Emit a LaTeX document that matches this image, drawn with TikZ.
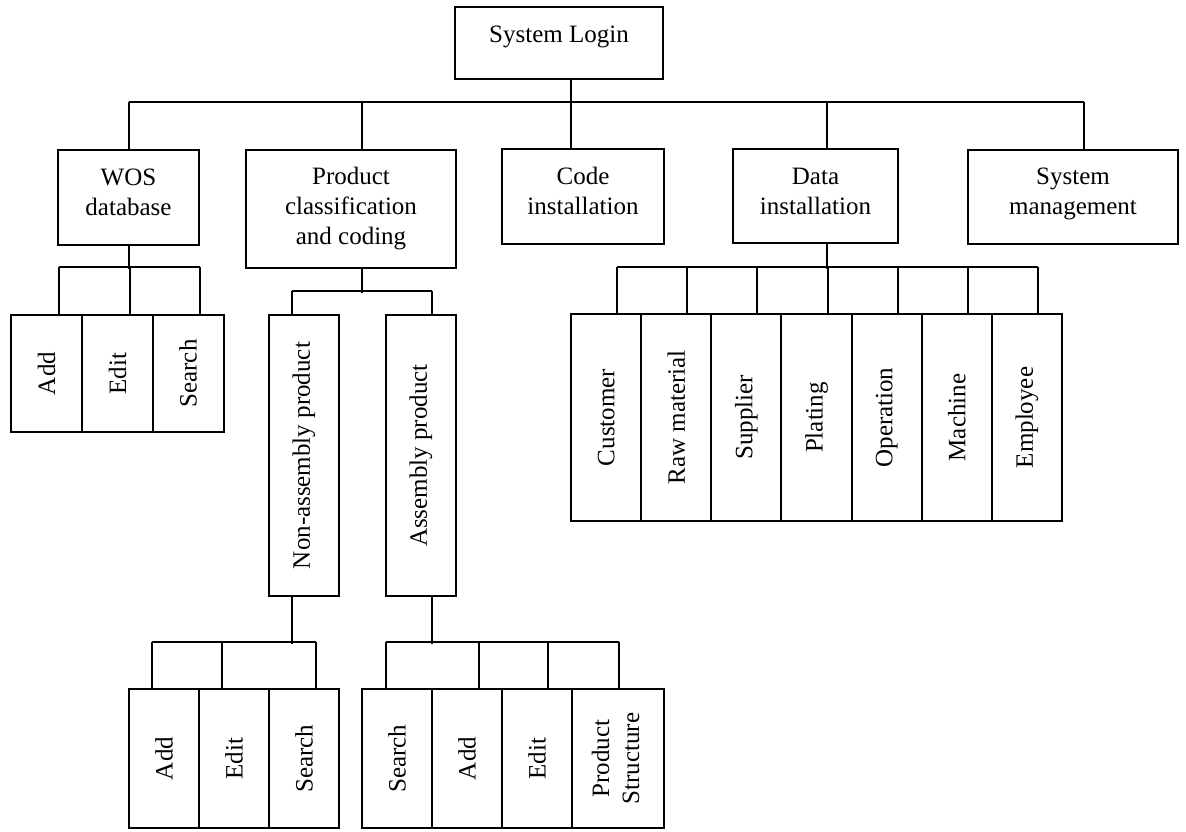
\documentclass[tikz,border=0pt]{standalone}
\usepackage{fontspec}
\setmainfont{Liberation Serif}
\usetikzlibrary{calc}
\tikzstyle{block}=[draw,rectangle,line width=1pt,align=center,inner sep=2pt,font=\fontsize{12.5}{15}\selectfont]
\tikzstyle{leaf}=[block,minimum width=35pt]
\tikzstyle{link}=[draw,line width=1pt]

\begin{document}
\begin{tikzpicture}[x=0.5pt,y=-0.5pt]
    \useasboundingbox (0,0) rectangle (1186,831);
    % Login and the first level
    \node[block,minimum width=104pt,minimum height=36pt,text depth=9pt] (login) at (559,43) {System Login};
    \foreach \pos/\name/\w/\h/\dep/\lbl in {{(128.5,197.5)/wos/70.5/47.5/5/WOS\\database},
                                       {(351,209)/prod/105/59/2.7/Product\\classification\\and coding},
                                       {(583,196.5)/code/81/47.5/5.5/Code\\installation},
                                       {(815.5,196)/data/82.5/47/4.5/Data\\installation},
                                       {(1073,197)/sysm/105/47/6/System\\management}}
        \node[block,minimum width=\w pt,minimum height=\h pt,text depth=\dep pt] (\name) at \pos {\lbl};
    % Connect the first level
    \path[link] ($(login.south)+(12,0)$) -- ($(code.north)+(-12,0)$);
    \path[link] ($(wos.north)+(0,-47)$) -- ($(sysm.north)+(11,-47)$);
    \foreach \name/\dx in {wos/0, prod/11, data/11.5, sysm/11}
        \path[link] ($(\name.north)+(\dx,0)$) -- ++(0,-47);

    % WOS database
    \foreach \pos/\name/\lbl in {{(46.5,373.5)/wa1/Add}, {(117.5,373.5)/wa2/Edit}, {(188,373.5)/wa3/Search}}
        \node[leaf,minimum width=35.5pt,minimum height=58.5pt] (\name) at \pos {\rotatebox{90}{\lbl}};
    \path[link] (wos.south) -- ++(0,23);
    \path[link] ($(wa1.north)+(12,-47)$) -- ($(wa3.north)+(12,-47)$);
    \foreach \name in {wa1,wa2,wa3}
        \path[link] ($(\name.north)+(12,0)$) -- ++(0,-47);

    % Product classification and coding
    \foreach \pos/\name/\lbl in {{(304,455.5)/na/Non-assembly product}, {(421,455.5)/as/Assembly product}}
        \node[leaf,minimum height=140.5pt] (\name) at \pos {\rotatebox{90}{\lbl}};
    \path[link] ($(prod.south)+(11,0)$) -- ++(0,24);
    \path[link] ($(na.north)+(-12,-23)$) -- ($(as.north)+(11,-23)$);
    \foreach \name/\dx in {na/-12, as/11}
        \path[link] ($(\name.north)+(\dx,0)$) -- ++(0,-23);

    % Non-assembly product
    \foreach \pos/\name/\lbl in {{(164,758.5)/nc1/Add}, {(234,758.5)/nc2/Edit}, {(304,758.5)/nc3/Search}}
        \node[leaf,minimum height=69.5pt] (\name) at \pos {\rotatebox{90}{\lbl}};
    \path[link] ($(na.south)+(-12,0)$) -- ++(0,47);
    \path[link] ($(nc1.north)+(-12,-46)$) -- ($(nc3.north)+(12,-46)$);
    \foreach \name/\dx in {nc1/-12, nc2/-12, nc3/12}
        \path[link] ($(\name.north)+(\dx,0)$) -- ++(0,-46);

    % Assembly product
    \foreach \pos/\name/\lbl in {{(397,758.5)/ac1/Search}, {(467,758.5)/ac2/Add}, {(537,758.5)/ac3/Edit}}
        \node[leaf,minimum height=69.5pt] (\name) at \pos {\rotatebox{90}{\lbl}};
    \node[leaf,minimum width=46pt,minimum height=69.5pt] (ac4) at (618,758.5)
        {\rotatebox{90}{\begin{tabular}{@{}c@{}}Product\\Structure\end{tabular}}};
    \path[link] ($(as.south)+(11,0)$) -- ++(0,47);
    \path[link] ($(ac1.north)+(-11,-46)$) -- ($(ac4.north)+(1,-46)$);
    \foreach \name/\dx in {ac1/-11, ac2/12, ac3/11, ac4/1}
        \path[link] ($(\name.north)+(\dx,0)$) -- ++(0,-46);

    % Data installation
    \foreach \lbl [count=\i] in {Customer, Raw material, Supplier, Plating, Operation, Machine, Employee}
        \node[leaf,minimum width=35.07pt,minimum height=103.5pt] (dc\i) at ({535.96+70.14*\i},417.5) {\rotatebox{90}{\lbl}};
    \path[link] ($(data.south)+(11.5,0)$) -- ++(0,25);
    \path[link] ($(dc1.north)+(11,-46)$) -- ($(dc7.north)+(11,-46)$);
    \foreach \i in {1,...,7}
        \path[link] ($(dc\i.north)+(11,0)$) -- ++(0,-46);
\end{tikzpicture}
\end{document}
